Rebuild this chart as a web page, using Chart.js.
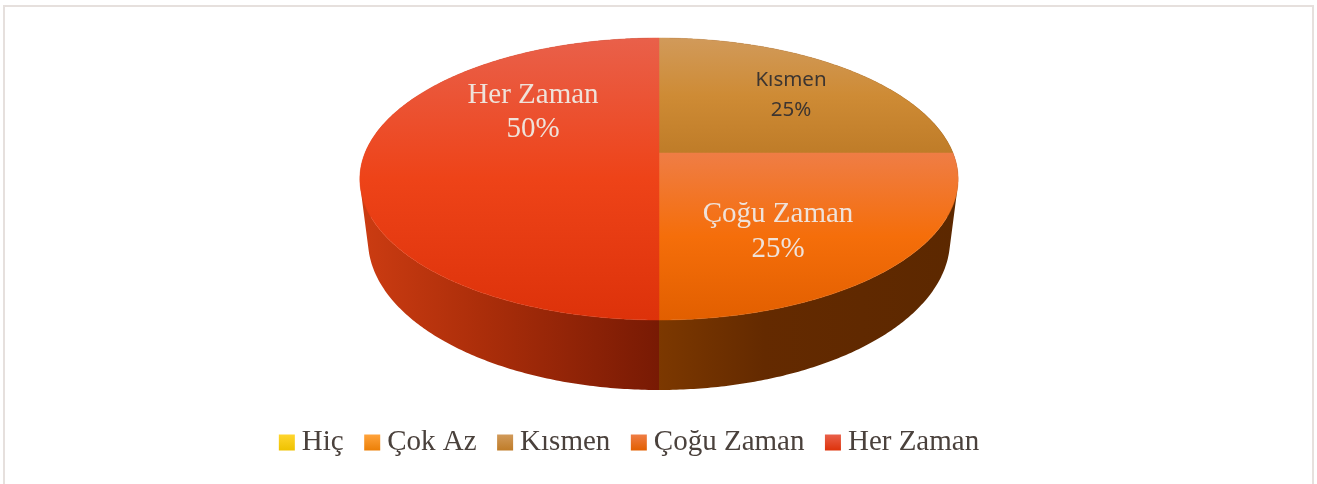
<!DOCTYPE html>
<html>
<head>
<meta charset="utf-8">
<script src="https://cdn.jsdelivr.net/npm/chart.js@4"></script>
<style>html,body{margin:0;padding:0;background:#fff}canvas{display:block}</style>
</head>
<body>
<canvas id="c" width="1317" height="484"></canvas>
<script>
const categories = ['Hiç', 'Çok Az', 'Kısmen', 'Çoğu Zaman', 'Her Zaman'];
const values = [0, 0, 25, 25, 50];
const percentLabels = ['0%', '0%', '25%', '25%', '50%'];
const baseColors = ['#FFC000', '#F79420', '#C98A3A', '#F36C0A', '#E93C14'];
const swatchTop = ['#FFD52E', '#FFA33C', '#D19A5A', '#EF7D45', '#E9604A'];
const swatchBottom = ['#EEC200', '#EC7F06', '#BF7C28', '#E25F00', '#DD320A'];
const topStops = {
  2: [[0, '#D19A5A'], [0.5, '#CE8B35'], [1, '#BF7C28']],
  3: [[0, '#EF7D45'], [0.5, '#F56E0A'], [1, '#E25F00']],
  4: [[0, '#E9604A'], [0.5, '#EE4318'], [1, '#DD320A']]
};
const wallStopsLeft = [[0, '#CC3C12'], [0.4, '#AC2E0A'], [1, '#781A04']];
const wallStopsRight = [[0, '#7C3800'], [0.35, '#642A00'], [1, '#5C2800']];
const legendTextColor = '#4A413C';
const labelStyle = {
  2: {font: '20.5px "Noto Sans"', color: '#3D3530', x: 791, y1: 80, y2: 110},
  3: {font: '29px "Liberation Serif"', color: '#EFE2DA', x: 778, y1: 214, y2: 249},
  4: {font: '29px "Liberation Serif"', color: '#EFE2DA', x: 533, y1: 95, y2: 129}
};

const G = {cx: 659, cy: 153, a: 294, b: 136.2, k: -0.1844, frontY: 167, wallScaleX: 0.973, wallScaleY: 1.0638, wallBottom: 390};
function project(angle, wall) {
  const u = Math.cos(angle), v = Math.sin(angle), d = 1 + G.k * v;
  const x = G.a * u / d, y = G.b * v / d;
  if (wall) return [G.cx + x * G.wallScaleX, G.wallBottom + (y - G.frontY) * G.wallScaleY];
  return [G.cx + x, G.cy + y];
}
function arcPoints(s, e, wall) {
  const pts = [], n = Math.max(2, Math.ceil((e - s) / 0.01));
  for (let i = 0; i <= n; i++) pts.push(project(s + (e - s) * i / n, wall));
  return pts;
}
function grad(ctx, x0, y0, x1, y1, stops) {
  const g = ctx.createLinearGradient(x0, y0, x1, y1);
  stops.forEach(s => g.addColorStop(s[0], s[1]));
  return g;
}
function fillPoly(ctx, pts, fill) {
  ctx.beginPath();
  pts.forEach((p, i) => i ? ctx.lineTo(p[0], p[1]) : ctx.moveTo(p[0], p[1]));
  ctx.closePath();
  ctx.fillStyle = fill;
  ctx.fill();
}
function fillWall(ctx, top, low, fill) {
  ctx.beginPath();
  for (let i = 0; i + 1 < top.length; i++) {
    let q = [top[i], top[i + 1], low[i + 1], low[i]];
    let area = 0;
    q.forEach((p, j) => { const r = q[(j + 1) % 4]; area += p[0] * r[1] - r[0] * p[1]; });
    if (area < 0) q = q.reverse();
    q.forEach((p, j) => j ? ctx.lineTo(p[0], p[1]) : ctx.moveTo(p[0], p[1]));
    ctx.closePath();
  }
  ctx.fillStyle = fill;
  ctx.fill('nonzero');
}

const pie3d = {
  id: 'pie3d',
  beforeDraw(chart) {
    const ctx = chart.ctx;
    ctx.save();
    ctx.fillStyle = '#fff';
    ctx.fillRect(0, 0, chart.width, chart.height);
    ctx.fillStyle = '#E6E0DD';
    ctx.fillRect(3, 5, 2, chart.height - 5);
    ctx.fillRect(3, 5, 1310, 2);
    ctx.fillRect(1312, 5, 2, chart.height - 5);
    ctx.restore();
  },
  beforeDatasetDraw(chart, args) {
    const ctx = chart.ctx;
    const arcs = chart.getDatasetMeta(args.index).data;
    ctx.save();
    arcs.forEach((arc, i) => {
      if (arc.endAngle - arc.startAngle <= 0) return;
      const top = arcPoints(arc.startAngle, arc.endAngle, false);
      const low = arcPoints(arc.startAngle, arc.endAngle, true);
      const isRight = top.every(p => p[0] >= G.cx - 0.5);
      const wallFill = isRight
        ? grad(ctx, G.cx, 0, 960, 0, wallStopsRight)
        : grad(ctx, 360, 0, G.cx, 0, wallStopsLeft);
      fillWall(ctx, top, low, wallFill);
    });
    arcs.forEach((arc, i) => {
      if (arc.endAngle - arc.startAngle <= 0) return;
      const top = arcPoints(arc.startAngle, arc.endAngle, false);
      const poly = top.concat([[G.cx, G.cy]]);
      const ys = poly.map(p => p[1]);
      const fill = grad(ctx, 0, Math.min(...ys), 0, Math.max(...ys), topStops[i]);
      ctx.lineWidth = 0.5;
      ctx.strokeStyle = fill;
      fillPoly(ctx, poly, fill);
      ctx.stroke();
    });
    ctx.textAlign = 'center';
    ctx.textBaseline = 'middle';
    arcs.forEach((arc, i) => {
      const st = labelStyle[i];
      if (!st) return;
      ctx.font = st.font;
      ctx.fillStyle = st.color;
      ctx.fillText(categories[i], st.x, st.y1);
      ctx.fillText(percentLabels[i], st.x, st.y2);
    });
    ctx.restore();
    return false;
  },
  afterDraw(chart) {
    const ctx = chart.ctx, boxes = chart.legend.legendHitBoxes;
    ctx.save();
    boxes.forEach((b, i) => {
      const y = b.top + b.height / 2 - 8;
      ctx.fillStyle = grad(ctx, 0, y, 0, y + 16, [[0, swatchTop[i]], [1, swatchBottom[i]]]);
      ctx.fillRect(b.left, y, 16, 16);
    });
    ctx.restore();
  }
};

new Chart(document.getElementById('c'), {
  type: 'pie',
  data: {labels: categories, datasets: [{data: values, backgroundColor: baseColors, borderWidth: 0}]},
  options: {
    responsive: false,
    animation: false,
    devicePixelRatio: 1,
    layout: {padding: {bottom: 17, right: 59}},
    plugins: {
      tooltip: {enabled: false},
      legend: {
        position: 'bottom',
        labels: {
          boxWidth: 8.5,
          boxHeight: 16,
          padding: 20.5,
          color: legendTextColor,
          font: {family: '"Liberation Serif"', size: 29},
          generateLabels: chart => categories.map((t, i) => ({
            text: t, index: i, fontColor: legendTextColor, fillStyle: 'rgba(0,0,0,0)', strokeStyle: 'rgba(0,0,0,0)', lineWidth: 0, hidden: false
          }))
        }
      }
    }
  },
  plugins: [pie3d]
});
</script>
</body>
</html>
